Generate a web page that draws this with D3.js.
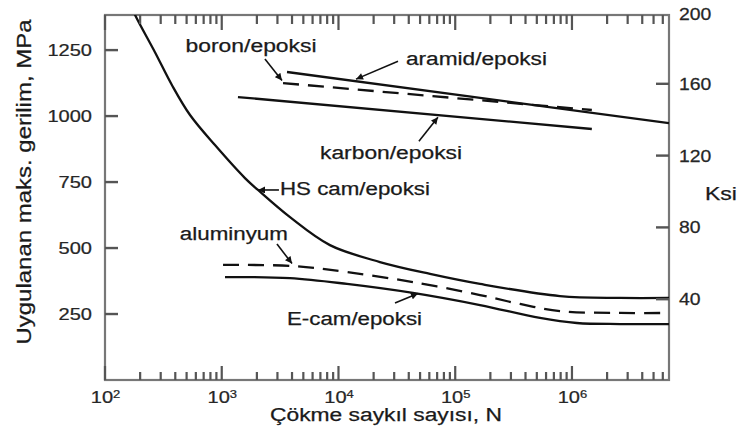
<!DOCTYPE html>
<html>
<head>
<meta charset="utf-8">
<script src="https://cdn.jsdelivr.net/npm/d3@7"></script>
<style>
  html, body { margin: 0; padding: 0; background: #fff; }
  svg { display: block; font-family: "Liberation Sans", Arial, Helvetica, sans-serif; }
  text { stroke: currentColor; stroke-width: 0.25px; }
</style>
</head>
<body>
<svg id="chart" width="739" height="443"></svg>
<script>
// ---------- data ----------
const xMajorTicks = [1e2, 1e3, 1e4, 1e5, 1e6];
const xTickExponents = ["2", "3", "4", "5", "6"];
const yTicksMPa = [250, 500, 750, 1000, 1250];
const yTicksKsi = [40, 80, 120, 160, 200];

const hsCamN   = [167, 181, 268, 375, 535, 875, 1581, 2044, 3843, 8450, 22650, 60800, 163000, 789000, 2.58e6, 6.78e6];
const hsCamMPa = [1420, 1383, 1242, 1117, 1004, 890, 765, 720, 617, 511, 447, 402, 364, 318, 311, 311];

const aluminyumN   = [1026, 4074, 11820, 43400, 163000, 359000, 789000, 2.58e6, 6.78e6];
const aluminyumMPa = [436, 432, 409, 371, 322, 288, 261, 254, 254];

const eCamN   = [1067, 3843, 11820, 43400, 163000, 532000, 1.10e6, 2.58e6, 6.78e6];
const eCamMPa = [390, 386, 364, 330, 284, 235, 216, 212, 212];

const aramidN   = [3623, 6.78e6];
const aramidMPa = [1167, 973];

const boronN   = [3350, 1.48e6];
const boronMPa = [1125, 1023];

const karbonN   = [1377, 1.48e6];
const karbonMPa = [1072, 951];

// annotation anchors in data space: label start, arrow tail, arrow tip
const annLabels   = ["boron/epoksi", "aramid/epoksi", "karbon/epoksi", "HS cam/epoksi", "aluminyum", "E-cam/epoksi"];
const annLabelN   = [490, 37840, 6950, 3155, 438, 3623];
const annLabelMPa = [1242, 1193, 837, 701, 530, 208];
const annTailN    = [2344, 32360, 48870, 3090, 2972, 30480];
const annTailMPa  = [1216, 1208, 905, 720, 515, 292];
const annTipN     = [3281, 14130, 71100, 2044, 3999, 47970];
const annTipMPa   = [1135, 1140, 996, 720, 441, 328];
const annWidths   = [131, 141, 142, 150, 108, 135];

// ---------- layout ----------
const L = 105, R = 669, T = 15, B = 380;
const svg = d3.select("#chart");

const x = d3.scaleLog().domain([100, 6.78e6]).range([L, R]);
const y = d3.scaleLinear().domain([0, 1383]).range([B, T]);
const yK = d3.scaleLinear().domain([0, 200]).range([371, 12]);

const frameColor = "#777777";
const tickColor = "#555555";
const textColor = "#262626";
const stretch = 1.18;

function stretchText(sel, k) {
  sel.each(function () {
    const t = d3.select(this);
    const x0 = +t.attr("x") || 0;
    t.attr("transform", `matrix(${k},0,0,1,${x0 * (1 - k)},0)`);
  });
}

// minor tick values for log axis
const minorTicks = [];
for (let d = 2; d <= 6; d++) {
  for (let k = 2; k <= 9; k++) {
    const v = k * Math.pow(10, d);
    if (v <= 6.78e6) minorTicks.push(v);
  }
}

function cleanAxis(g) {
  g.select(".domain").remove();
  g.selectAll(".tick line").remove();
  g.selectAll(".tick text").attr("fill", textColor).style("color", textColor).style("font-size", "17px");
}

// frame
svg.append("rect").attr("x", L).attr("y", T).attr("width", R - L).attr("height", B - T)
  .attr("fill", "none").attr("stroke", frameColor).attr("stroke-width", 2.2);

// ---- axis labels (d3 axes) ----
const bottomAxis = svg.append("g").attr("transform", `translate(0,${B})`)
  .call(d3.axisBottom(x).tickValues(xMajorTicks).tickSize(0).tickPadding(11).tickFormat(() => "10"))
  .call(cleanAxis);
bottomAxis.selectAll(".tick text").each(function (d, i) {
  d3.select(this).append("tspan").attr("dy", "-0.45em").style("font-size", "11px").text(xTickExponents[i]);
});
stretchText(bottomAxis.selectAll(".tick text"), stretch);

const leftAxis = svg.append("g").attr("transform", `translate(${L},0)`)
  .call(d3.axisLeft(y).tickValues(yTicksMPa).tickSize(0).tickPadding(13).tickFormat(d3.format("d")))
  .call(cleanAxis);
stretchText(leftAxis.selectAll(".tick text"), stretch);

const rightAxis = svg.append("g").attr("transform", `translate(${R},0)`)
  .call(d3.axisRight(yK).tickValues(yTicksKsi).tickSize(0).tickPadding(10).tickFormat(d3.format("d")))
  .call(cleanAxis);
rightAxis.selectAll(".tick").filter(d => d === 200).attr("transform", `translate(0,${T})`);
stretchText(rightAxis.selectAll(".tick text"), 1.14);

// clip + marker
const defs = svg.append("defs");
defs.append("clipPath").attr("id", "plotClip")
  .append("rect").attr("x", L).attr("y", T).attr("width", R - L).attr("height", B - T);
defs.append("marker")
  .attr("id", "arrowHead").attr("markerUnits", "userSpaceOnUse")
  .attr("viewBox", "0 0 10 10").attr("refX", 10).attr("refY", 5)
  .attr("markerWidth", 8).attr("markerHeight", 7).attr("orient", "auto")
  .append("path").attr("d", "M0,0 L10,5 L0,10 Z").attr("fill", "#111");

// ---------- curves ----------
const line = d3.line().x(d => x(d[0])).y(d => y(d[1])).curve(d3.curveCatmullRom.alpha(0.5));
const zip = (a, b) => a.map((v, i) => [v, b[i]]);

const curves = [
  { n: hsCamN, v: hsCamMPa, dash: null },
  { n: aluminyumN, v: aluminyumMPa, dash: "16,9" },
  { n: eCamN, v: eCamMPa, dash: null },
  { n: aramidN, v: aramidMPa, dash: null },
  { n: boronN, v: boronMPa, dash: "16,9" },
  { n: karbonN, v: karbonMPa, dash: null }
];

const plot = svg.append("g").attr("clip-path", "url(#plotClip)");
plot.selectAll("path.curve").data(curves).enter().append("path")
  .attr("class", "curve")
  .attr("d", c => line(zip(c.n, c.v)))
  .attr("fill", "none")
  .attr("stroke", "#111")
  .attr("stroke-width", 2.3)
  .attr("stroke-dasharray", c => c.dash);

// ---------- annotations ----------
const ann = svg.append("g");
annLabels.forEach((lab, i) => {
  ann.append("line")
    .attr("x1", x(annTailN[i])).attr("y1", y(annTailMPa[i]))
    .attr("x2", x(annTipN[i])).attr("y2", y(annTipMPa[i]))
    .attr("stroke", "#111").attr("stroke-width", 1.6)
    .attr("marker-end", "url(#arrowHead)");
  ann.append("text")
    .attr("x", x(annLabelN[i])).attr("y", y(annLabelMPa[i]))
    .attr("fill", "#1a1a1a").style("color", "#1a1a1a").style("font-size", "18px")
    .attr("textLength", annWidths[i]).attr("lengthAdjust", "spacingAndGlyphs")
    .text(lab);
});

// ---------- titles ----------
svg.append("text")
  .attr("x", 386).attr("y", 421).attr("text-anchor", "middle")
  .attr("fill", "#1a1a1a").style("color", "#1a1a1a").style("font-size", "18px")
  .attr("textLength", 232).attr("lengthAdjust", "spacingAndGlyphs")
  .text("Çökme saykıl sayısı, N");

svg.append("text")
  .attr("transform", "translate(31,182) rotate(-90)")
  .attr("text-anchor", "middle")
  .attr("fill", "#1a1a1a").style("color", "#1a1a1a").style("font-size", "20px")
  .attr("textLength", 325).attr("lengthAdjust", "spacingAndGlyphs")
  .text("Uygulanan maks. gerilim, MPa");

svg.append("text")
  .attr("x", 705).attr("y", 200)
  .attr("fill", "#1a1a1a").style("color", "#1a1a1a").style("font-size", "18px")
  .attr("textLength", 32).attr("lengthAdjust", "spacingAndGlyphs")
  .text("Ksi");

// ---- tick marks (inward), drawn last so they stay on top ----
const tickRects = [];
minorTicks.forEach(v => {
  tickRects.push({ x: x(v) - 1.1, y: B - 8, w: 2.2, h: 8 });
  tickRects.push({ x: x(v) - 1.1, y: T, w: 2.2, h: 9 });
});
xMajorTicks.forEach(v => {
  tickRects.push({ x: x(v) - 1.1, y: B - 14, w: 2.2, h: 14 });
  tickRects.push({ x: x(v) - 1.1, y: T, w: 2.2, h: 15 });
});
yTicksMPa.forEach(v => tickRects.push({ x: L, y: y(v) - 1.2, w: 13, h: 2.4 }));
yTicksKsi.filter(v => yK(v) > T + 2).forEach(v => tickRects.push({ x: R - 13, y: yK(v) - 1.2, w: 13, h: 2.4 }));

svg.append("g").attr("class", "ticks")
  .selectAll("rect").data(tickRects).join("rect")
  .attr("x", d => d.x).attr("y", d => d.y)
  .attr("width", d => d.w).attr("height", d => d.h)
  .attr("fill", tickColor);
</script>
</body>
</html>
